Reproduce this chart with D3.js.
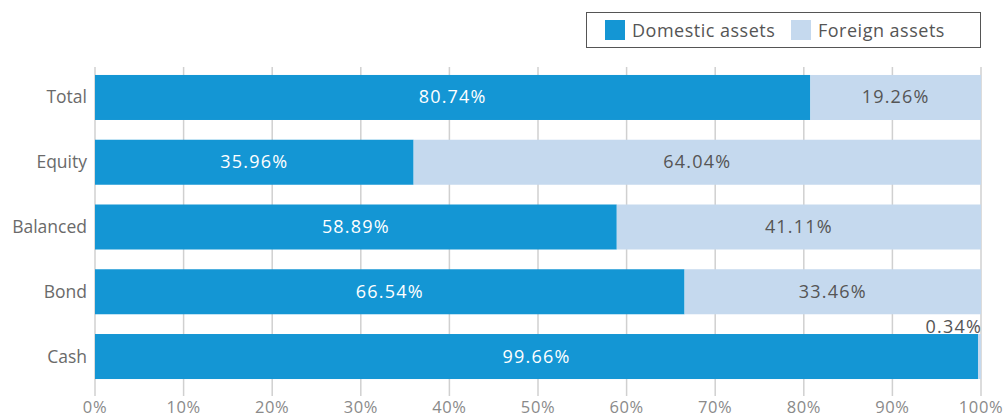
<!DOCTYPE html>
<html>
<head>
<meta charset="utf-8">
<script src="https://cdn.jsdelivr.net/npm/d3@7"></script>
<style>
body { margin: 0; background: #fff; font-family: "Open Sans", sans-serif; }
</style>
</head>
<body>
<script>
// Chart data
const categories = ["Total", "Equity", "Balanced", "Bond", "Cash"];
const domestic = [80.74, 35.96, 58.89, 66.54, 99.66];
const foreign = [19.26, 64.04, 41.11, 33.46, 0.34];
const seriesNames = ["Domestic assets", "Foreign assets"];
const colors = ["#1496d4", "#c5d9ee"];
const xTicks = [0, 10, 20, 30, 40, 50, 60, 70, 80, 90, 100];

const width = 1008, height = 417;
const margin = {top: 67, right: 27, bottom: 22, left: 95};

const svg = d3.select("body").append("svg")
    .attr("width", width)
    .attr("height", height);

const x = d3.scaleLinear().domain([0, 100]).range([margin.left, width - margin.right]);
const y = d3.scaleBand().domain(categories)
    .range([67.2, 386.8])
    .paddingInner(0.305).paddingOuter(0.12);

//Gridlines
svg.append("g")
    .selectAll("line")
    .data(xTicks)
    .enter()
    .append("line")
    .attr("x1", d => x(d)).attr("x2", d => x(d))
    .attr("y1", margin.top).attr("y2", 396)
    .attr("stroke", "#d0d0d0")
    .attr("stroke-width", 1.5);

//Tick labels
svg.append("g")
    .selectAll("text")
    .data(xTicks)
    .enter()
    .append("text")
    .attr("x", d => x(d))
    .attr("y", 413)
    .attr("text-anchor", "middle")
    .attr("fill", "#8a8a8a")
    .style("font-size", "16.5px")
    .style("letter-spacing", "0.6px")
    .text(d => d + "%");

//Category labels
svg.append("g")
    .selectAll("text")
    .data(categories)
    .enter()
    .append("text")
    .attr("x", 87)
    .attr("y", d => y(d) + y.bandwidth() / 2 + 6)
    .attr("text-anchor", "end")
    .attr("fill", "#6a6a6a")
    .style("font-size", "17.5px")
    .text(d => d);

const rows = categories.map((c, i) => ({cat: c, dom: domestic[i], fgn: foreign[i]}));

//Bars
const bars = svg.append("g");
bars.selectAll("rect.dom")
    .data(rows)
    .enter()
    .append("rect")
    .attr("x", x(0))
    .attr("y", d => y(d.cat))
    .attr("width", d => x(d.dom) - x(0))
    .attr("height", y.bandwidth())
    .attr("fill", colors[0]);
bars.selectAll("rect.fgn")
    .data(rows)
    .enter()
    .append("rect")
    .attr("x", d => x(d.dom))
    .attr("y", d => y(d.cat))
    .attr("width", d => x(d.dom + d.fgn) - x(d.dom))
    .attr("height", y.bandwidth())
    .attr("fill", colors[1]);

//Bar labels
const labels = svg.append("g")
    .style("font-size", "18px")
    .style("letter-spacing", "1.2px");
labels.selectAll("text.dom")
    .data(rows)
    .enter()
    .append("text")
    .attr("x", d => x(d.dom / 2))
    .attr("y", d => y(d.cat) + y.bandwidth() / 2 + 6)
    .attr("text-anchor", "middle")
    .attr("fill", "#ffffff")
    .text(d => d.dom.toFixed(2) + "%");
labels.selectAll("text.fgn")
    .data(rows)
    .enter()
    .append("text")
    .attr("x", d => d.fgn < 5 ? x(100) + 1 : x(d.dom + d.fgn / 2))
    .attr("y", d => d.fgn < 5 ? y(d.cat) - 1 : y(d.cat) + y.bandwidth() / 2 + 6)
    .attr("text-anchor", d => d.fgn < 5 ? "end" : "middle")
    .attr("fill", "#555555")
    .text(d => d.fgn.toFixed(2) + "%");

//Legend
const legend = svg.append("g");
legend.append("rect")
    .attr("x", 586.5).attr("y", 12.5)
    .attr("width", 394).attr("height", 35)
    .attr("fill", "#fff")
    .attr("stroke", "#555")
    .attr("stroke-width", 1);
const legendX = [605, 791];
seriesNames.forEach((name, i) => {
    legend.append("rect")
        .attr("x", legendX[i]).attr("y", 20)
        .attr("width", 20).attr("height", 20)
        .attr("fill", colors[i]);
    legend.append("text")
        .attr("x", legendX[i] + 27).attr("y", 36.5)
        .attr("fill", "#555555")
        .style("font-size", "18px")
        .style("letter-spacing", "0.5px")
        .text(name);
});
</script>
</body>
</html>
